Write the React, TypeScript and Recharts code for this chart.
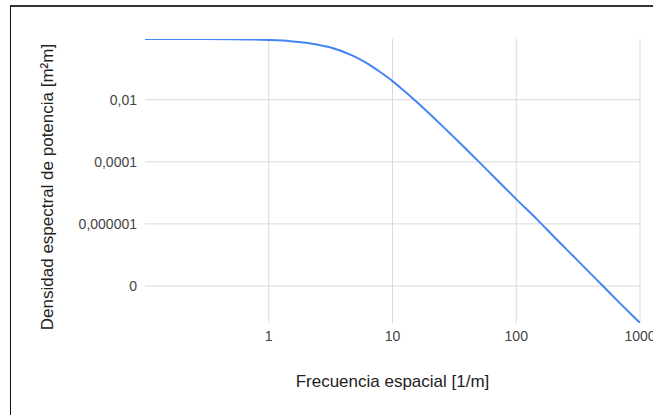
import React from 'react';
import { LineChart, Line, XAxis, YAxis, ReferenceLine, Label } from 'recharts';

const frequencies = [
  0.1, 0.2, 0.3, 0.5, 0.7, 1, 1.5, 2, 2.5, 3, 3.5, 4, 4.5, 5, 6, 7, 8, 9, 10, 12, 15,
  20, 25, 30, 40, 50, 70, 100, 150, 200, 300, 500, 700, 1000,
];
const psdValues = [
  0.91, 0.91, 0.908, 0.895, 0.881, 0.845, 0.776, 0.69, 0.597, 0.51, 0.425, 0.354, 0.292,
  0.241, 0.163, 0.111, 0.077, 0.055, 0.040, 0.0218, 0.0100, 0.0035, 0.0015, 0.00074,
  0.00024, 0.0001, 0.000026, 0.0000063, 0.0000013, 0.0000004, 0.000000079,
  0.0000000101, 0.0000000026, 0.00000000064,
];

const xTicks = [1, 10, 100, 1000];
const yTicks = [0.00000001, 0.000001, 0.0001, 0.01];
const yTickLabels = ['0', '0,000001', '0,0001', '0,01'];

const xTitle = 'Frecuencia espacial [1/m]';
const yTitle = 'Densidad espectral de potencia [m²m]';

const data = frequencies.map((f, i) => ({ f, v: psdValues[i] }));

const FONT = '"Liberation Sans", Arial, sans-serif';
const GRID = '#d9d9d9';

export default function App() {
  return (
    <div style={{ position: 'absolute', left: 0, top: 0, width: 653, height: 415, overflow: 'hidden', background: '#fff' }}>
      <div
        style={{
          position: 'absolute',
          left: 10,
          top: 5,
          width: 643,
          height: 410,
          borderTop: '2px solid #333',
          borderLeft: '1px solid #111',
          boxSizing: 'border-box',
        }}
      />
      <div style={{ position: 'absolute', left: 0, top: 0 }}>
        <LineChart
          width={653}
          height={415}
          data={data}
          margin={{ top: 39, right: 13, bottom: 0, left: 0 }}
          style={{ fontFamily: FONT }}
        >
          <XAxis
            dataKey="f"
            type="number"
            scale="log"
            domain={[0.1, 1000]}
            ticks={xTicks}
            allowDataOverflow
            axisLine={false}
            tickLine={false}
            height={92}
            tick={{ fill: '#444', fontSize: 14, fontFamily: FONT }}
            interval={0}
          >
            <Label
              value={xTitle}
              position="insideBottom"
              offset={28}
              style={{ fill: '#222', fontSize: 17, fontFamily: FONT }}
            />
          </XAxis>
          <YAxis
            dataKey="v"
            type="number"
            scale="log"
            domain={['dataMin', 'dataMax']}
            ticks={yTicks}
            allowDataOverflow
            axisLine={false}
            tickLine={false}
            width={145}
            interval={0}
            tick={{ fill: '#444', fontSize: 14, fontFamily: FONT }}
            tickFormatter={(val: number) => {
              const idx = yTicks.findIndex((t) => Math.abs(Math.log10(t) - Math.log10(val)) < 1e-6);
              return idx >= 0 ? yTickLabels[idx] : '';
            }}
          >
            <Label
              content={() => (
                <text
                  transform="translate(47,187) rotate(-90)"
                  textAnchor="middle"
                  dominantBaseline="central"
                  style={{ fill: '#222', fontSize: 17, fontFamily: FONT }}
                >
                  {yTitle}
                </text>
              )}
            />
          </YAxis>
          {yTicks.map((t) => (
            <ReferenceLine key={'h' + t} y={t} stroke={GRID} strokeWidth={1} ifOverflow="visible" />
          ))}
          {xTicks.map((t) => (
            <ReferenceLine key={'v' + t} x={t} stroke={GRID} strokeWidth={1} ifOverflow="visible" />
          ))}
          <Line
            type="monotone"
            dataKey="v"
            stroke="#4285f4"
            strokeWidth={2}
            dot={false}
            isAnimationActive={false}
          />
        </LineChart>
      </div>
    </div>
  );
}
